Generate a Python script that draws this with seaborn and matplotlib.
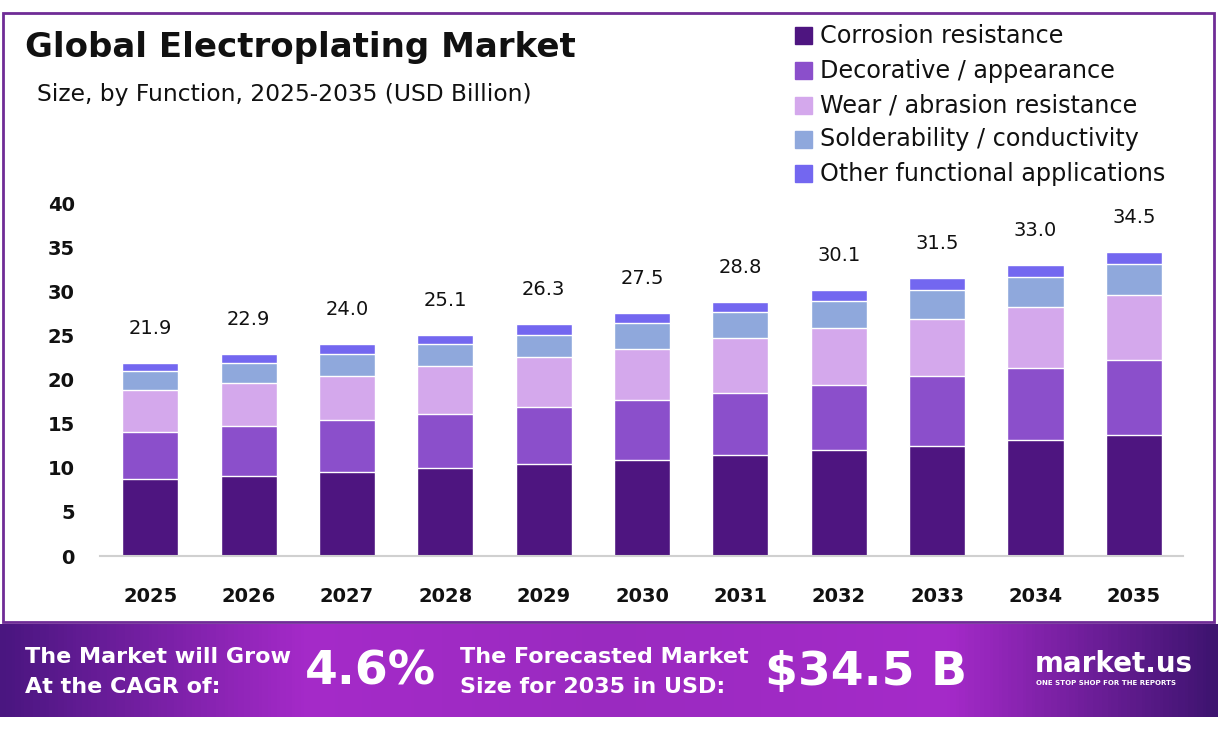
import numpy as np
import pandas as pd
import seaborn as sns
import matplotlib.pyplot as plt
from matplotlib.colors import LinearSegmentedColormap
from matplotlib.patches import Rectangle

# values (USD billion)
years = ['2025', '2026', '2027', '2028', '2029', '2030', '2031', '2032', '2033', '2034', '2035']
corrosion = [8.75, 9.10, 9.55, 10.00, 10.45, 10.90, 11.45, 12.05, 12.50, 13.20, 13.75]
decorative = [5.35, 5.65, 5.90, 6.10, 6.45, 6.80, 7.05, 7.35, 7.85, 8.05, 8.50]
wear = [4.70, 4.80, 5.00, 5.40, 5.60, 5.80, 6.15, 6.40, 6.55, 6.95, 7.30]
solder = [2.20, 2.35, 2.45, 2.55, 2.60, 2.90, 2.95, 3.05, 3.30, 3.40, 3.55]
other = [0.90, 1.00, 1.10, 1.05, 1.20, 1.10, 1.20, 1.25, 1.30, 1.40, 1.40]
totals = [21.9, 22.9, 24.0, 25.1, 26.3, 27.5, 28.8, 30.1, 31.5, 33.0, 34.5]

segments = ['Corrosion resistance', 'Decorative / appearance', 'Wear / abrasion resistance',
            'Solderability / conductivity', 'Other functional applications']
colors = ['#4e1580', '#8b4fcb', '#d4a8ec', '#8fa8dc', '#7367f0']

df = pd.DataFrame({'Year': years, segments[0]: corrosion, segments[1]: decorative,
                   segments[2]: wear, segments[3]: solder, segments[4]: other})

sns.set_theme(style='white')
plt.rcParams['font.family'] = ['DejaVu Sans']

fig = plt.figure(figsize=(12.18, 7.38), dpi=100)
ax = fig.add_axes([0.0821, 0.2466, 0.8892, 0.4783])

# stacked bars: draw cumulative sums back to front
cum = df[segments].cumsum(axis=1)
for seg, col in reversed(list(zip(segments, colors))):
    sns.barplot(x=df['Year'], y=cum[seg], color=col, width=0.57, ax=ax,
                saturation=1, label=seg)

for i, t in enumerate(totals):
    ax.annotate(f'{t:.1f}', (i, t), xytext=(0, 18), textcoords='offset points',
                ha='center', va='bottom', fontsize=14, color='#111111')

ax.set_ylim(0, 40)
ax.set_xlim(-0.51, 10.5)
ax.set_yticks(range(0, 41, 5))
ax.set_xlabel('')
ax.set_ylabel('')
for s in ['top', 'right', 'left']:
    ax.spines[s].set_visible(False)
ax.spines['bottom'].set_color('#d0d0d0')
ax.spines['bottom'].set_linewidth(1.5)
ax.tick_params(axis='y', length=0, pad=18, labelsize=14)
ax.tick_params(axis='x', length=0, pad=22, labelsize=14)
for lab in ax.get_xticklabels() + ax.get_yticklabels():
    lab.set_fontweight('bold')
    lab.set_color('#111111')
if ax.get_legend():
    ax.get_legend().remove()

# custom legend in the top right
leg_y = [0.951, 0.904, 0.857, 0.811, 0.764]
for seg, col, yy in zip(segments, colors, leg_y):
    fig.patches.append(Rectangle((795 / 1218, yy - 0.011), 17 / 1218, 17 / 738,
                                 transform=fig.transFigure, color=col))
    fig.text(820 / 1218, yy, seg, fontsize=17.2, va='center', ha='left', color='#111111')

fig.text(25 / 1218, 1 - 48 / 738, 'Global Electroplating Market', fontsize=24.5,
         fontweight='bold', va='center', ha='left', color='#111111')
fig.text(37 / 1218, 1 - 95 / 738, 'Size, by Function, 2025-2035 (USD Billion)', fontsize=16.8,
         va='center', ha='left', color='#111111')

# purple frame
fig.patches.append(Rectangle((3 / 1218, 1 - 622 / 738), 1211 / 1218, 609 / 738,
                             transform=fig.transFigure, fill=False,
                             edgecolor='#6f2c96', linewidth=2))

# bottom banner with horizontal gradient
bax = fig.add_axes([0, 1 - 717 / 738, 1, 93 / 738])
cmap = LinearSegmentedColormap.from_list(
    'banner', [(0, '#4a1680'), (0.25, '#a52ac9'), (0.5, '#9a2ac0'), (0.78, '#a52ac9'), (1, '#3e1470')])
bax.imshow(np.linspace(0, 1, 400).reshape(1, -1), aspect='auto', cmap=cmap, extent=[0, 1, 0, 1])
bax.set_axis_off()

white = 'white'
fig.text(25 / 1218, 1 - 657 / 738, 'The Market will Grow', fontsize=16, fontweight='bold',
         color=white, va='center', ha='left')
fig.text(25 / 1218, 1 - 687 / 738, 'At the CAGR of:', fontsize=16, fontweight='bold',
         color=white, va='center', ha='left')
fig.text(305 / 1218, 1 - 672 / 738, '4.6%', fontsize=34, fontweight='bold',
         color=white, va='center', ha='left')
fig.text(460 / 1218, 1 - 657 / 738, 'The Forecasted Market', fontsize=16, fontweight='bold',
         color=white, va='center', ha='left')
fig.text(460 / 1218, 1 - 687 / 738, 'Size for 2035 in USD:', fontsize=16, fontweight='bold',
         color=white, va='center', ha='left')
fig.text(765 / 1218, 1 - 672 / 738, '$34.5 B', fontsize=34, fontweight='bold',
         color=white, va='center', ha='left')
fig.text(1035 / 1218, 1 - 664 / 738, 'market.us', fontsize=20, fontweight='bold',
         color=white, va='center', ha='left')
fig.text(1036 / 1218, 1 - 683 / 738, 'ONE STOP SHOP FOR THE REPORTS', fontsize=5,
         fontweight='bold', color=white, va='center', ha='left')

fig.savefig('out.png', dpi=100)
